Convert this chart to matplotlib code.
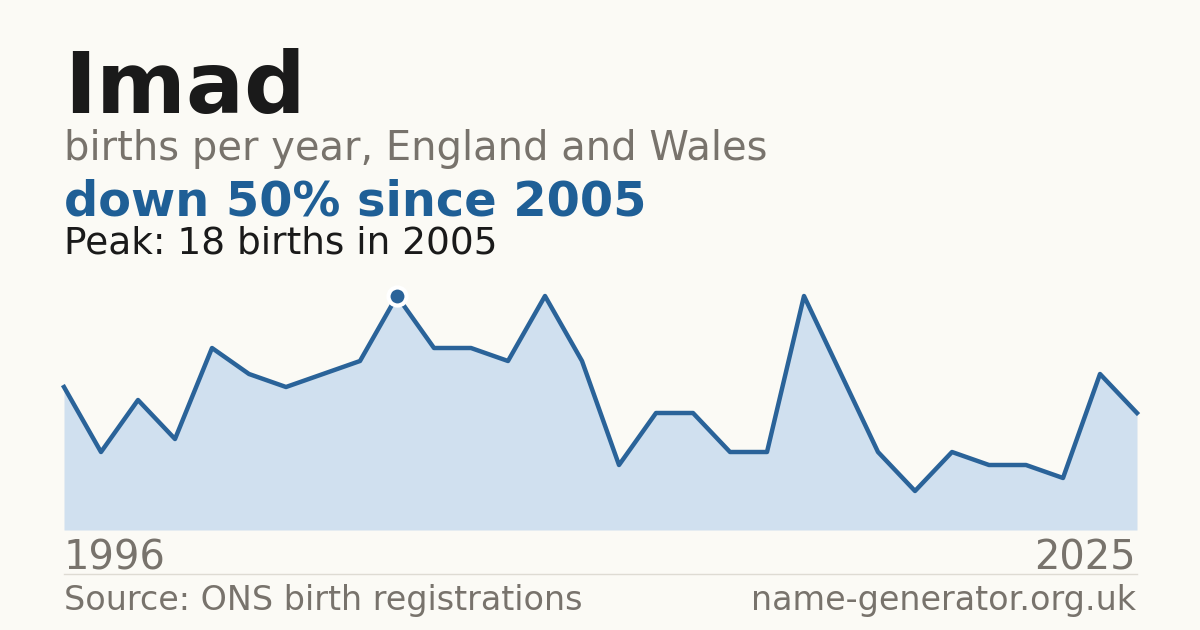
import matplotlib
matplotlib.use("Agg")
import matplotlib.pyplot as plt

# births per year for the name, England and Wales
years = list(range(1996, 2026))
births = [11, 6, 10, 7, 14, 12, 11, 12, 13, 18,
          14, 14, 13, 18, 13, 5, 9, 9, 6, 6,
          18, 12, 6, 3, 6, 5, 5, 4, 12, 9]

name = "Imad"
subtitle = "births per year, England and Wales"
source = "Source: ONS birth registrations"
site = "name-generator.org.uk"

bg = "#fbfaf5"
blue = "#2a6399"
fill_col = "#d0e0ef"
grey = "#78736c"

peak = max(births)
peak_year = years[births.index(peak)]
change = round((births[-1] - peak) / peak * 100)

plt.rcParams['font.family'] = ['DejaVu Sans']

fig = plt.figure(figsize=(12, 6.3), dpi=100, facecolor=bg)

# plot area: x 64..1137 px, y from 530 (zero) to 296 (peak)
ax = fig.add_axes([64 / 1200, 100 / 630, 1073 / 1200, 234 / 630])
ax.set_facecolor(bg)
ax.fill_between(years, births, 0, color=fill_col, lw=0)
ax.plot(years, births, color=blue, lw=3.2, clip_on=False)
ax.plot([peak_year], [peak], 'o', ms=13, color=blue, mec='white', mew=3, clip_on=False, zorder=5)
ax.set_xlim(years[0], years[-1])
ax.set_ylim(0, peak)
ax.axis('off')

fig.text(64 / 1200, 1 - 113 / 630, name, fontsize=62, fontweight='bold', color='#1a1a1a', va='baseline')
fig.text(64 / 1200, 1 - 160 / 630, subtitle, fontsize=28.8, color=grey, va='baseline')
fig.text(64 / 1200, 1 - 215 / 630, f"down {abs(change)}% since {peak_year}", fontsize=34.5,
         fontweight='bold', color='#1f5f96', va='baseline')
fig.text(64 / 1200, 1 - 253 / 630, f"Peak: {peak} births in {peak_year}", fontsize=27,
         color='#1a1a1a', va='baseline')

fig.text(64 / 1200, 1 - 570 / 630, str(years[0]), fontsize=28.8, color=grey, va='baseline')
fig.text(1136 / 1200, 1 - 570 / 630, str(years[-1]), fontsize=28.8, color=grey, va='baseline', ha='right')

fig.add_artist(plt.Line2D([64 / 1200, 1137 / 1200], [1 - 574 / 630, 1 - 574 / 630],
                          color='#dedbd3', lw=1))

fig.text(64 / 1200, 1 - 610 / 630, source, fontsize=24, color=grey, va='baseline')
fig.text(1136 / 1200, 1 - 610 / 630, site, fontsize=24, color=grey, va='baseline', ha='right')

fig.savefig("out.png", dpi=100, facecolor=bg)
